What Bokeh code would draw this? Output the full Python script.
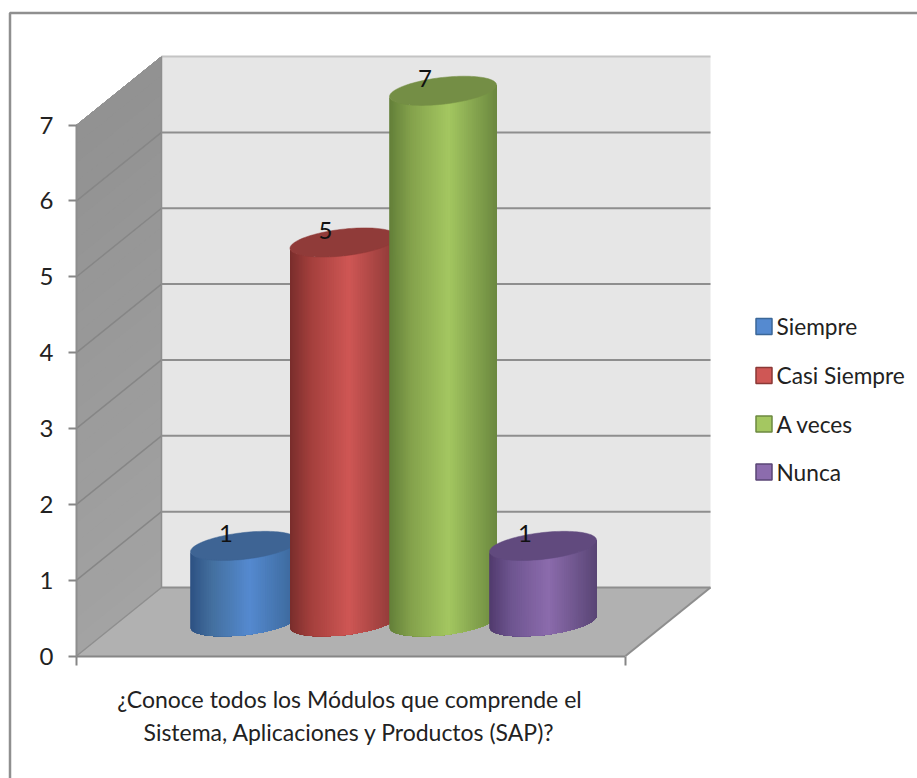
import numpy as np
from bokeh.core.properties import value
from bokeh.embed import file_html
from bokeh.models import FixedTicker, LinearAxis
from bokeh.plotting import figure
from bokeh.resources import INLINE

# Chart data
categories = ["Siempre", "Casi Siempre", "A veces", "Nunca"]
counts = [1, 5, 7, 1]
y_ticks = [0, 1, 2, 3, 4, 5, 6, 7]
question = ["¿Conoce todos los Módulos que comprende el",
            "Sistema, Aplicaciones y Productos (SAP)?"]

# Shading per series: left edge, shoulder, highlight, right edge, cap
shades = {
    "Siempre": ["#2e5284", "#44709f", "#558ad0", "#3b6798", "#3e6494"],
    "Casi Siempre": ["#7a2f2d", "#a5403d", "#cf5755", "#8b3836", "#903b39"],
    "A veces": ["#64803a", "#84a24c", "#a4c761", "#6c8940", "#748e45"],
    "Nunca": ["#523c6e", "#6e5590", "#8c6cad", "#5a4676", "#614a7e"],
}

FONT = "Lato"
WIDTH, HEIGHT = 917, 778

# Scale: horizontal data units are screen pixels, vertical units are chart values
UNIT = 75.85
ZERO = 655.5


def vy(py):
    """Convert a distance from the page top into the value scale."""
    return (ZERO - py) / UNIT


# 3D box
FRONT_L, FRONT_R = 76.0, 625.0
DX = 85.0
DY = 68.5 / UNIT
TOP = 7

# Cylinders
CENTERS = [243.5, 343.0, 442.5, 542.5]
RX = 53.5
RY = 13.4 / UNIT
TILT = 5.8 / UNIT
BASE = DY / 2

p = figure(width=WIDTH, height=HEIGHT, output_backend="svg", toolbar_location=None,
           x_range=(0, WIDTH), y_range=(vy(HEIGHT), vy(0)), x_axis_type=None, y_axis_type=None,
           min_border=0, outline_line_color=None, background_fill_color="white",
           border_fill_color="white")
p.grid.visible = False

# Chart frame: only its top and left edges fall on the page
p.line([9.5, 9.5, WIDTH], [vy(HEIGHT), vy(12.5), vy(12.5)], line_color="#8f8f8f", line_width=2.5)

# Side wall, lightly graded from top to bottom; each band covers everything above it
bands = 28
edges = np.linspace(0, TOP, bands + 1)
wall_cols = ["#%02x%02x%02x" % (g, g, g) for g in np.linspace(163, 146, bands).astype(int)]
p.patches(
    xs=[[FRONT_L, FRONT_L + DX, FRONT_L + DX, FRONT_L] for _ in range(bands)],
    ys=[[edges[i], edges[i] + DY, TOP + DY, TOP] for i in range(bands)],
    fill_color=wall_cols, line_color=None,
)

# Back wall and floor
p.quad(left=[FRONT_L + DX], right=[FRONT_R + DX], bottom=[DY], top=[TOP + DY],
       fill_color="#e6e6e6", line_color=None)
p.patch(x=[FRONT_L, FRONT_L + DX, FRONT_R + DX, FRONT_R], y=[0, DY, DY, 0],
        fill_color="#b1b1b1", line_color=None)

# Grid lines running along the side wall and across the back wall
grid_vals = y_ticks[1:-1]
p.multi_line(xs=[[FRONT_L, FRONT_L + DX] for _ in grid_vals],
             ys=[[v, v + DY] for v in grid_vals], line_color="#868686", line_width=1.5)
p.multi_line(xs=[[FRONT_L + DX, FRONT_R + DX] for _ in y_ticks[:-1]],
             ys=[[v + DY, v + DY] for v in y_ticks[:-1]], line_color="#8e8e8e", line_width=2)
p.line([FRONT_L + DX, FRONT_R + DX], [TOP + DY, TOP + DY], line_color="#c4c4c4", line_width=2)
p.line([FRONT_L, FRONT_L + DX, FRONT_L + DX], [0, DY, TOP + DY], line_color="#8e8e8e", line_width=1.5)
p.line([FRONT_R, FRONT_R + DX], [0, DY], line_color="#8e8e8e", line_width=2)


def shade(stops, t):
    pos = [0.0, 0.2, 0.55, 1.0]
    rgb = np.array([[int(c[i:i + 2], 16) for i in (1, 3, 5)] for c in stops[:4]], float)
    r, g, b = (np.interp(t, pos, rgb[:, k]) for k in range(3))
    return "#%02x%02x%02x" % (int(r), int(g), int(b))


# Cylinders, drawn left to right so each one overlaps the previous.
# Strips are nested: each covers the body from its left edge to the far right,
# so the next strip paints over it without leaving a seam.
for name, count, cx in zip(categories, counts, CENTERS):
    stops = shades[name]
    n = 70
    u = -np.cos(np.pi * np.arange(n + 1) / n)
    curve = TILT * u - RY * np.sqrt(np.clip(1 - u ** 2, 0, 1))
    xs = cx + RX * u
    top_y, base_y = BASE + count, BASE
    strip_x, strip_y, strip_c = [], [], []
    for i in range(n):
        strip_x.append(np.concatenate([xs[i:], xs[i:][::-1]]))
        strip_y.append(np.concatenate([top_y + curve[i:], (base_y + curve[i:])[::-1]]))
        strip_c.append(shade(stops, (u[i] + u[i + 1]) / 4 + 0.5))
    p.patches(xs=strip_x, ys=strip_y, fill_color=strip_c, line_color=None)

    a = np.linspace(0, 2 * np.pi, 120)
    p.patch(x=cx + RX * np.cos(a), y=top_y + TILT * np.cos(a) + RY * np.sin(a),
            fill_color=stops[4], line_color=stops[4], line_width=0.5)

# Value labels above each cap
p.text(x=[c - 18 for c in CENTERS], y=[BASE + v + 12.5 / UNIT for v in counts],
       text=[str(v) for v in counts], text_font=value(FONT), text_font_size="24px",
       text_color="#111111", text_align="center", text_baseline="middle")

# Value axis on the front left corner
y_axis = LinearAxis(fixed_location=FRONT_L, bounds=(0, TOP), ticker=FixedTicker(ticks=y_ticks),
                    axis_line_color="#8e8e8e", axis_line_width=2,
                    major_tick_line_color="#868686", major_tick_line_width=2,
                    major_tick_in=0, major_tick_out=8, minor_tick_line_color=None,
                    major_label_standoff=15, major_label_text_font=FONT,
                    major_label_text_font_size="24px", major_label_text_color="#222222")
p.add_layout(y_axis, "left")

# Category axis along the front floor edge; its end ticks carry no labels
x_axis = LinearAxis(fixed_location=0, bounds=(FRONT_L, FRONT_R),
                    ticker=FixedTicker(ticks=[FRONT_L, FRONT_R]),
                    axis_line_color="#868686", axis_line_width=2,
                    major_tick_line_color="#868686", major_tick_line_width=2,
                    major_tick_in=0, major_tick_out=9, minor_tick_line_color=None,
                    major_label_overrides={FRONT_L: "", FRONT_R: ""})
p.add_layout(x_axis, "below")

# Question text under the axis
p.text(x=[349, 349], y=[vy(698), vy(731)], text=question, text_font=value(FONT),
       text_font_size="23px", text_color="#222222", text_align="center", text_baseline="middle")

# Legend
LEG_X = 755.0
LEG_Y = [326.0, 375.0, 423.5, 471.5]
for name, ly in zip(categories, LEG_Y):
    stops = shades[name]
    p.quad(left=[LEG_X + 0.5], right=[LEG_X + 16.5], top=[vy(ly - 8)], bottom=[vy(ly + 8)],
           fill_color=stops[2], line_color=stops[3], line_width=1.5)
p.text(x=[LEG_X + 21] * 4, y=[vy(ly) for ly in LEG_Y], text=categories, text_font=value(FONT),
       text_font_size="22.7px", text_color="#222222", text_align="left", text_baseline="middle")

open("out.html", "w").write(file_html(p, INLINE))
